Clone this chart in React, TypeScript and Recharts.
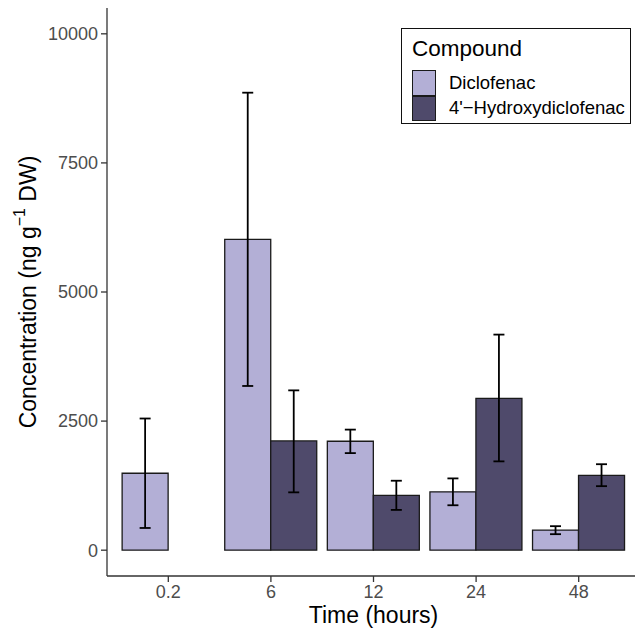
import { Bar, BarChart, ErrorBar, XAxis, YAxis } from 'recharts'

const times = ['0.2', '6', '12', '24', '48']
const diclofenac = [1490, 6020, 2110, 1130, 390]
const diclofenacLow = [430, 3180, 1880, 870, 310]
const diclofenacHigh = [2550, 8860, 2335, 1390, 465]
const hydroxy = [null, 2115, 1060, 2940, 1450]
const hydroxyLow = [null, 1120, 780, 1720, 1240]
const hydroxyHigh = [null, 3095, 1345, 4175, 1665]
const yTicks = [0, 2500, 5000, 7500, 10000]

const LIGHT = '#b3afd6'
const DARK = '#4f4a6b'
const FONT = '"Liberation Sans", Arial, Helvetica, sans-serif'

const data = times.map((t, i) => ({
  time: t,
  dic: diclofenac[i],
  dicErr: [diclofenac[i] - diclofenacLow[i], diclofenacHigh[i] - diclofenac[i]],
  hyd: hydroxy[i],
  hydErr:
    hydroxy[i] == null
      ? null
      : [hydroxy[i]! - hydroxyLow[i]!, hydroxyHigh[i]! - hydroxy[i]!],
}))

const legendItems = [
  { name: 'Diclofenac', color: LIGHT },
  { name: "4'\u2212Hydroxydiclofenac", color: DARK },
]

// legend drawn as an overlay, so the plot area keeps its full width
function CompoundLegend() {
  return (
    <div
      style={{
        position: 'absolute',
        left: 401,
        top: 28,
        width: 230,
        height: 96,
        border: '1.5px solid #111',
        background: '#fff',
        fontFamily: FONT,
        boxSizing: 'border-box',
        padding: '6px 0 0 10px',
      }}
    >
      <div style={{ fontSize: 22.5, color: '#000', lineHeight: '27px' }}>Compound</div>
      <div style={{ marginTop: 8 }}>
        {legendItems.map((it) => (
          <div key={it.name} style={{ display: 'flex', alignItems: 'center', height: 25.5 }}>
            <div
              style={{
                width: 24,
                height: 25.5,
                boxSizing: 'border-box',
                border: '1.3px solid #1a1a1a',
                background: it.color,
              }}
            />
            <span style={{ fontSize: 18.5, marginLeft: 13, color: '#000' }}>{it.name}</span>
          </div>
        ))}
      </div>
    </div>
  )
}

function YLabel() {
  const cx = 28
  const cy = 292
  return (
    <text
      x={cx}
      y={cy}
      transform={`rotate(-90 ${cx} ${cy})`}
      textAnchor='middle'
      dominantBaseline='central'
      fontSize={23}
      fontFamily={FONT}
      fill='#000'
    >
      <tspan>Concentration (ng g</tspan>
      <tspan fontSize={16} dy={-9}>{'\u22121'}</tspan>
      <tspan dy={9}> DW)</tspan>
    </text>
  )
}

export default function App() {
  return (
    <div
      style={{
        position: 'absolute',
        left: 0,
        top: 0,
        width: 635,
        height: 632,
        overflow: 'hidden',
        background: '#fff',
      }}
    >
      <BarChart
        width={645}
        height={632}
        data={data}
        margin={{ top: 8, right: 5, bottom: 0, left: 0 }}
        barCategoryGap='5%'
        barGap={0}
      >
        <XAxis
          dataKey='time'
          type='category'
          padding={{ left: 10, right: 10 }}
          height={56}
          tickSize={6}
          tickMargin={3}
          stroke='#333'
          strokeWidth={1.3}
          tick={{ fill: '#4d4d4d', fontSize: 18, fontFamily: FONT }}
          label={{
            value: 'Time (hours)',
            position: 'insideBottom',
            offset: 9,
            fill: '#000',
            fontSize: 23,
            fontFamily: FONT,
          }}
        />
        <YAxis
          type='number'
          domain={[-500, 10500]}
          ticks={yTicks}
          width={107}
          tickSize={6}
          tickMargin={3}
          stroke='#333'
          strokeWidth={1.3}
          tick={{ fill: '#4d4d4d', fontSize: 18, fontFamily: FONT }}
          label={<YLabel />}
        />
        <Bar dataKey='dic' fill={LIGHT} stroke='#1a1a1a' strokeWidth={1.3} isAnimationActive={false}>
          <ErrorBar dataKey='dicErr' width={5.5} stroke='#000' strokeWidth={1.8} />
        </Bar>
        <Bar dataKey='hyd' fill={DARK} stroke='#1a1a1a' strokeWidth={1.3} isAnimationActive={false}>
          <ErrorBar dataKey='hydErr' width={5.5} stroke='#000' strokeWidth={1.8} />
        </Bar>
      </BarChart>
      <CompoundLegend />
    </div>
  )
}
